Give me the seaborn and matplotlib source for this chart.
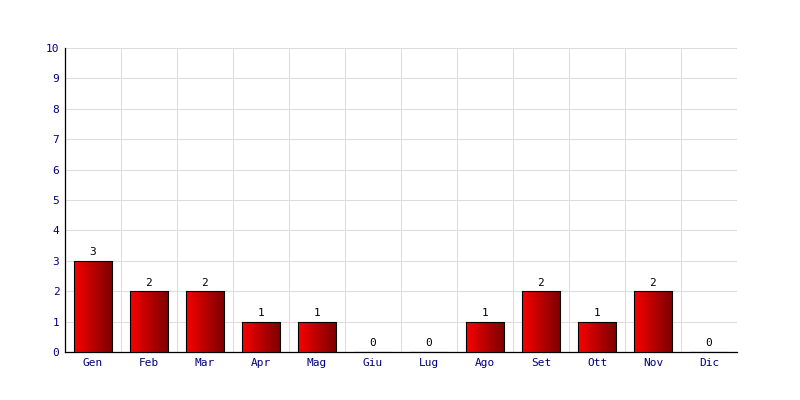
import numpy as np
import pandas as pd
import matplotlib
matplotlib.use('Agg')
import matplotlib.pyplot as plt
import seaborn as sns
from matplotlib.colors import LinearSegmentedColormap

# 데이터
mesi = ['Gen', 'Feb', 'Mar', 'Apr', 'Mag', 'Giu', 'Lug', 'Ago', 'Set', 'Ott', 'Nov', 'Dic']
valori = [3, 2, 2, 1, 1, 0, 0, 1, 2, 1, 2, 0]
y_ticks = list(range(0, 11))

df = pd.DataFrame({'mese': mesi, 'valore': valori})

sns.set_style('white')
plt.rcParams['font.family'] = ['DejaVu Sans Mono']

fig = plt.figure(figsize=(8, 4), dpi=100)
ax = fig.add_axes([65 / 800, 48 / 400, 672 / 800, 304 / 400])

sns.barplot(data=df, x='mese', y='valore', ax=ax, width=0.68,
            color='#cc0000', edgecolor='black', linewidth=0.8, zorder=3)

# 그라데이션 (밝은 빨강 -> 어두운 빨강)
cmap = LinearSegmentedColormap.from_list('rosso', ['#f80000', '#7a0000'])
grad = np.linspace(0, 1, 256).reshape(1, -1)
for p in ax.patches:
    x0, y0 = p.get_x(), p.get_y()
    w, h = p.get_width(), p.get_height()
    if h <= 0:
        continue
    im = ax.imshow(grad, cmap=cmap, aspect='auto', extent=[x0, x0 + w, y0, y0 + h],
                   zorder=3.5, interpolation='bicubic')
    im.set_clip_path(p)
    p.set_facecolor('none')
    p.set_zorder(4)

# 값 표시
for i, v in enumerate(valori):
    ax.text(i, v + 0.12, str(v), ha='center', va='bottom', fontsize=8, color='black', zorder=5)

ax.set_xlim(-0.5, len(mesi) - 0.5)
ax.set_ylim(0, 10)
ax.set_yticks(y_ticks)
ax.set_xticks(np.arange(len(mesi) + 1) - 0.5, minor=True)
ax.grid(which='minor', axis='x', color='#dddddd', linewidth=0.75, zorder=0)
ax.grid(which='major', axis='y', color='#dddddd', linewidth=0.75, zorder=0)
ax.set_axisbelow(True)

ax.tick_params(axis='both', which='both', length=0, labelsize=8, labelcolor='#000080', pad=4)
ax.set_xlabel('')
ax.set_ylabel('')

for s in ['top', 'right']:
    ax.spines[s].set_visible(False)
ax.spines['left'].set_color('black')
ax.spines['bottom'].set_color('black')
ax.spines['left'].set_linewidth(0.9)
ax.spines['bottom'].set_linewidth(0.9)

plt.savefig('out.png', dpi=100)
